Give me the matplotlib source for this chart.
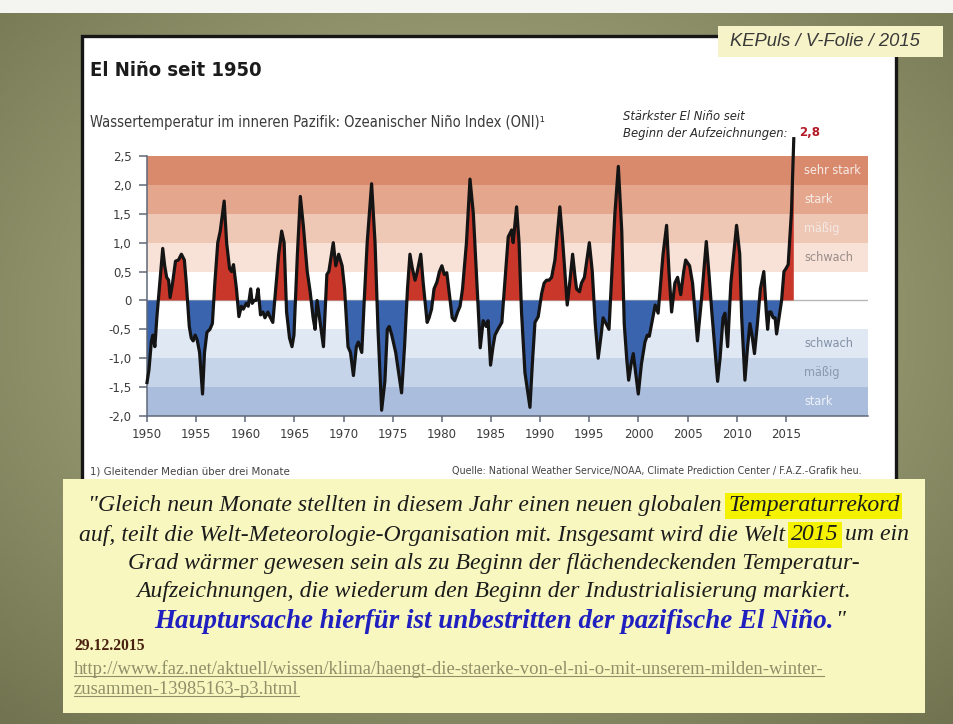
import os
import numpy as np
import matplotlib
matplotlib.use('Agg')
import matplotlib.pyplot as plt
from matplotlib import font_manager as fm
from matplotlib.patches import Rectangle
from matplotlib.lines import Line2D

W, H = 954, 724

# ONI values (year, index)
years = [1950.0, 1950.2, 1950.45, 1950.6, 1950.8, 1951.0, 1951.3, 1951.6, 1951.8, 1952.0,
         1952.2, 1952.35, 1952.6, 1952.9, 1953.2, 1953.5, 1953.8, 1954.0, 1954.3, 1954.5,
         1954.7, 1954.9, 1955.1, 1955.35, 1955.65, 1955.85, 1956.1, 1956.4, 1956.65, 1956.9,
         1957.2, 1957.45, 1957.85, 1958.1, 1958.4, 1958.6, 1958.8, 1959.1, 1959.35, 1959.6,
         1959.8, 1960.1, 1960.3, 1960.55, 1960.7, 1960.9, 1961.1, 1961.3, 1961.55, 1961.8,
         1962.0, 1962.3, 1962.5, 1962.8, 1963.1, 1963.4, 1963.7, 1963.95, 1964.2, 1964.5,
         1964.75, 1964.95, 1965.3, 1965.6, 1965.9, 1966.3, 1966.6, 1966.9, 1967.1, 1967.3,
         1967.55, 1967.95, 1968.3, 1968.5, 1968.95, 1969.2, 1969.5, 1969.85, 1970.1, 1970.45,
         1970.7, 1971.0, 1971.3, 1971.5, 1971.85, 1972.1, 1972.4, 1972.85, 1973.2, 1973.5,
         1973.87, 1974.2, 1974.45, 1974.65, 1974.9, 1975.3, 1975.9, 1976.2, 1976.5, 1976.75,
         1977.0, 1977.27, 1977.5, 1977.85, 1978.1, 1978.5, 1978.7, 1978.95, 1979.2, 1979.5,
         1979.75, 1980.0, 1980.25, 1980.5, 1980.8, 1981.05, 1981.3, 1981.6, 1981.85, 1982.1,
         1982.5, 1982.86, 1983.2, 1983.5, 1983.9, 1984.2, 1984.5, 1984.7, 1984.95, 1985.2,
         1985.4, 1985.7, 1986.1, 1986.4, 1986.75, 1987.1, 1987.25, 1987.6, 1987.85, 1988.1,
         1988.3, 1988.45, 1988.96, 1989.2, 1989.47, 1989.8, 1990.15, 1990.4, 1990.65, 1990.9,
         1991.16, 1991.5, 1992.0, 1992.3, 1992.75, 1993.0, 1993.3, 1993.55, 1993.7, 1994.0,
         1994.2, 1994.5, 1994.75, 1995.0, 1995.3, 1995.6, 1995.9, 1996.2, 1996.4, 1996.7,
         1997.0, 1997.3, 1997.6, 1997.95, 1998.3, 1998.55, 1998.8, 1999.0, 1999.25, 1999.47,
         1999.98, 2000.3, 2000.66, 2000.9, 2001.1, 2001.45, 2001.7, 2002.0, 2002.5, 2002.86,
         2003.1, 2003.37, 2003.7, 2003.98, 2004.3, 2004.6, 2004.8, 2005.2, 2005.5, 2005.75,
         2006.0, 2006.4, 2006.9, 2007.2, 2007.45, 2007.8, 2008.05, 2008.3, 2008.6, 2008.8,
         2009.07, 2009.4, 2009.98, 2010.3, 2010.5, 2010.83, 2011.1, 2011.34, 2011.55, 2011.8,
         2012.1, 2012.4, 2012.75, 2013.0, 2013.14, 2013.3, 2013.48, 2013.7, 2013.9, 2014.05,
         2014.3, 2014.56, 2014.8, 2015.0, 2015.23, 2015.57, 2015.8]
oni = [-1.42, -1.2, -0.7, -0.6, -0.8, -0.3, 0.3, 0.9, 0.6, 0.4,
       0.35, 0.05, 0.3, 0.68, 0.7, 0.8, 0.7, 0.3, -0.45, -0.65,
       -0.7, -0.6, -0.68, -0.9, -1.62, -0.9, -0.55, -0.5, -0.4, 0.3,
       1.0, 1.2, 1.72, 1.0, 0.55, 0.5, 0.62, 0.2, -0.28, -0.1,
       -0.15, -0.05, -0.1, 0.2, -0.05, 0.0, 0.0, 0.2, -0.25, -0.2,
       -0.3, -0.2, -0.28, -0.38, 0.2, 0.8, 1.2, 1.0, -0.2, -0.65,
       -0.8, -0.6, 0.8, 1.8, 1.3, 0.5, 0.15, -0.3, -0.5, 0.0,
       -0.3, -0.8, 0.45, 0.5, 1.0, 0.6, 0.8, 0.6, 0.2, -0.8,
       -0.9, -1.3, -0.8, -0.72, -0.9, 0.0, 1.0, 2.02, 1.0, -0.5,
       -1.9, -1.4, -0.5, -0.45, -0.6, -0.9, -1.6, -0.8, 0.2, 0.8,
       0.55, 0.35, 0.5, 0.8, 0.3, -0.38, -0.3, -0.15, 0.2, 0.32,
       0.5, 0.6, 0.45, 0.48, 0.05, -0.3, -0.35, -0.2, -0.1, 0.2,
       1.0, 2.1, 1.5, 0.5, -0.82, -0.35, -0.45, -0.35, -1.12, -0.8,
       -0.6, -0.5, -0.38, 0.3, 1.1, 1.22, 1.0, 1.62, 1.0, -0.2,
       -0.8, -1.25, -1.85, -1.1, -0.38, -0.28, 0.12, 0.3, 0.35, 0.35,
       0.4, 0.7, 1.62, 1.0, -0.08, 0.3, 0.8, 0.4, 0.2, 0.15,
       0.3, 0.4, 0.7, 1.0, 0.5, -0.4, -1.0, -0.6, -0.3, -0.4,
       -0.5, 0.5, 1.5, 2.32, 1.2, -0.4, -1.0, -1.38, -1.1, -0.92,
       -1.62, -1.1, -0.72, -0.6, -0.62, -0.3, -0.08, -0.22, 0.8, 1.3,
       0.5, -0.2, 0.3, 0.4, 0.1, 0.5, 0.7, 0.6, 0.3, -0.2,
       -0.7, 0.0, 1.02, 0.4, -0.18, -0.9, -1.4, -1.0, -0.3, -0.22,
       -0.8, 0.3, 1.3, 0.8, -0.3, -1.38, -0.8, -0.4, -0.6, -0.92,
       -0.4, 0.2, 0.5, -0.2, -0.5, -0.2, -0.2, -0.3, -0.3, -0.58,
       -0.3, 0.0, 0.5, 0.55, 0.62, 1.56, 2.8]

band_lo = [2.0, 1.5, 1.0, 0.5, -1.0, -1.5, -2.0]
band_hi = [2.5, 2.0, 1.5, 1.0, -0.5, -1.0, -1.5]
band_names = ['sehr stark', 'stark', 'mäßig', 'schwach', 'schwach', 'mäßig', 'stark']
band_colors = ['#d98a6d', '#e4a68c', '#efc7b5', '#f8e2d8', '#e0e8f4', '#c6d4ea', '#aabddd']
band_text = ['#f6ebe6', '#f6ebe6', '#f4e9e4', '#9a8c87', '#8391a6', '#8a98ae', '#eef2f8']

yticks = [2.5, 2.0, 1.5, 1.0, 0.5, 0.0, -0.5, -1.0, -1.5, -2.0]
ytick_labels = ['2,5', '2,0', '1,5', '1,0', '0,5', '0', '-0,5', '-1,0', '-1,5', '-2,0']
xticks = [1950, 1955, 1960, 1965, 1970, 1975, 1980, 1985, 1990, 1995, 2000, 2005, 2010, 2015]

quote_lines = [
    ['"Gleich neun Monate stellten in diesem Jahr einen neuen globalen ', 'Temperaturrekord'],
    ['auf, teilt die Welt-Meteorologie-Organisation mit. Insgesamt wird die Welt ', '2015', ' um ein'],
    ['Grad wärmer gewesen sein als zu Beginn der flächendeckenden Temperatur-'],
    ['Aufzeichnungen, die wiederum den Beginn der Industrialisierung markiert.'],
]
quote_marks = [[False, True], [False, True, False], [False], [False]]
blue_line = 'Hauptursache hierfür ist unbestritten der pazifische El Niño.'
url1 = 'http://www.faz.net/aktuell/wissen/klima/haengt-die-staerke-von-el-ni-o-mit-unserem-milden-winter-'
url2 = 'zusammen-13985163-p3.html'

# look for a condensed sans, otherwise Roboto
cond = [f for f in fm.fontManager.ttflist
        if ('condensed' in (f.name + os.path.basename(f.fname)).lower()
            or 'narrow' in (f.name + os.path.basename(f.fname)).lower()
            or f.stretch in ('condensed', 'semi-condensed', 'extra-condensed', 501, 500) and False)]


def pick(weight_bold, italic):
    for f in cond:
        b = str(f.weight) in ('bold', '700')
        i = f.style in ('italic', 'oblique')
        if b == weight_bold and i == italic:
            return fm.FontProperties(fname=f.fname)
    return fm.FontProperties(family=['Roboto', 'DejaVu Sans'],
                             weight='bold' if weight_bold else 'normal',
                             style='italic' if italic else 'normal')


narrow = pick(False, False)
narrow_b = pick(True, False)
narrow_i = pick(False, True)
sans_i = fm.FontProperties(family='Liberation Sans', style='italic')
serif_i = fm.FontProperties(family='Liberation Serif', style='italic')
serif_bi = fm.FontProperties(family='Liberation Serif', style='italic', weight='bold')
serif_b = fm.FontProperties(family='Liberation Serif', weight='bold')
serif = fm.FontProperties(family='Liberation Serif')

fig = plt.figure(figsize=(W / 100, H / 100), dpi=100)
rend = fig.canvas.get_renderer()


def fx(px):
    return px / W


def fy(py):
    return 1 - py / H


def sized(fp, size):
    p = fp.copy()
    p.set_size(size)
    return p


def tw(s, fp):
    t = fig.text(0, 0, s, fontproperties=fp)
    w = t.get_window_extent(rend).width
    t.remove()
    return w


def fit(s, fp, width):
    return 10 * width / tw(s, sized(fp, 10))


def put(x, y, s, fp, size, color='#222222', ha='left', **kw):
    return fig.text(fx(x), fy(y), s, fontproperties=sized(fp, size), color=color,
                    ha=ha, va='center', **kw)


# background
bg = fig.add_axes([0, 0, 1, 1], zorder=-10)
gy, gx = np.mgrid[0:1:200j, 0:1:260j]
r = np.clip(np.sqrt(((gx - 0.5) / 0.75) ** 2 + ((gy - 0.45) / 0.75) ** 2), 0, 1)
light = np.array([0.73, 0.74, 0.57])
dark = np.array([0.44, 0.45, 0.31])
img = light[None, None, :] * (1 - r[..., None]) + dark[None, None, :] * r[..., None]
bg.imshow(img, extent=[0, 1, 0, 1], aspect='auto', origin='upper')
bg.add_patch(Rectangle((0, fy(13)), 1, 13 / H, color='#f4f4f0', lw=0))
bg.set_xlim(0, 1)
bg.set_ylim(0, 1)
bg.axis('off')

# white panel with black frame
fig.patches.append(Rectangle((fx(82), fy(484)), (896 - 82) / W, (484 - 36) / H, transform=fig.transFigure,
                             facecolor='white', edgecolor='#161616', lw=2.4, zorder=1))
fig.patches.append(Rectangle((fx(718), fy(57)), (943 - 718) / W, (57 - 26) / H, transform=fig.transFigure,
                             facecolor='#f6f3c8', edgecolor='none', zorder=2))
put(730, 42, 'KEPuls / V-Folie / 2015', sans_i, fit('KEPuls / V-Folie / 2015', sans_i, 190), '#3a3a3a',
    zorder=3)

# titles
put(90, 70, 'El Niño seit 1950', narrow_b, fit('El Niño seit 1950', narrow_b, 172), '#1b1b1b', zorder=3)
sub = 'Wassertemperatur im inneren Pazifik: Ozeanischer Niño Index (ONI)¹'
put(90, 122, sub, narrow, fit(sub, narrow, 452), '#3a3a3a', zorder=3)
s_ann = fit('Beginn der Aufzeichnungen:', narrow_i, 164)
put(623, 117, 'Stärkster El Niño seit', narrow_i, s_ann, '#2a2a2a', zorder=3)
put(623, 133, 'Beginn der Aufzeichnungen:', narrow_i, s_ann, '#2a2a2a', zorder=3)
put(799, 132, '2,8', narrow_b, fit('2,8', narrow_b, 21), '#b31b2a', zorder=3)

# chart
ax = fig.add_axes([fx(147), fy(416), (868 - 147) / W, (416 - 156) / H], zorder=2)
ax.set_facecolor('white')
for lo, hi, c in zip(band_lo, band_hi, band_colors):
    ax.axhspan(lo, hi, color=c, lw=0, zorder=0)
ax.axhline(0, color='#b8b8b8', lw=1.0, zorder=0.5)
t = np.array(years)
v = np.array(oni)
ax.fill_between(t, v, 0, where=v >= 0, interpolate=True, color='#c8372a', lw=0, zorder=1)
ax.fill_between(t, v, 0, where=v <= 0, interpolate=True, color='#3b64ae', lw=0, zorder=1)
ax.plot(t, v, color='#141414', lw=2.3, solid_joinstyle='round', clip_on=False, zorder=3)
ax.set_xlim(1950, 2023.35)
ax.set_ylim(-2.0, 2.5)

tick_size = fit('1950', narrow, 30)
ax.set_yticks(yticks)
ax.set_yticklabels(ytick_labels, fontproperties=sized(narrow, tick_size), color='#3c3c3c')
ax.set_xticks(xticks)
ax.set_xticklabels([str(x) for x in xticks], fontproperties=sized(narrow, tick_size), color='#3c3c3c')
ax.tick_params(axis='y', length=6, width=1.1, color='#5f6878', pad=5)
ax.tick_params(axis='x', length=4, width=1.1, color='#5f6878', pad=5)
for s in ['top', 'right']:
    ax.spines[s].set_visible(False)
for s in ['left', 'bottom']:
    ax.spines[s].set_color('#5f6878')
    ax.spines[s].set_linewidth(1.1)

lab_size = fit('sehr stark', narrow, 57)
for lo, hi, name, tc in zip(band_lo, band_hi, band_names, band_text):
    ax.text(2016.85, (lo + hi) / 2, name, fontproperties=sized(narrow, lab_size), color=tc,
            va='center', ha='left', zorder=4)

# footnotes
foot = '1) Gleitender Median über drei Monate'
put(90, 471, foot, narrow, fit(foot, narrow, 200), '#444444', zorder=3)
src = 'Quelle: National Weather Service/NOAA, Climate Prediction Center / F.A.Z.-Grafik heu.'
put(862, 471, src, narrow, fit(src, narrow, 413), '#444444', ha='right', zorder=3)

# quote box
fig.patches.append(Rectangle((fx(63), fy(713)), (925 - 63) / W, (713 - 479) / H, transform=fig.transFigure,
                             facecolor='#f8f7bf', edgecolor='none', zorder=5))

qsize = fit(''.join(quote_lines[1]), serif_i, 832)
qfp = sized(serif_i, qsize)
line_y = [506, 535, 563, 592]
for parts, marks, y in zip(quote_lines, quote_marks, line_y):
    full = ''.join(parts)
    left = 494 - tw(full, qfp) / 2
    prefix = ''
    for part, hl in zip(parts, marks):
        prefix += part
        core = part.strip()
        x0 = left + tw(prefix.rstrip(), qfp) - tw(core, qfp)
        kw = {}
        if hl:
            kw['bbox'] = dict(boxstyle='square,pad=0.12', fc='#f4f200', ec='none')
        fig.text(fx(x0), fy(y), core, fontproperties=qfp, color='#1c1c1c', va='center', ha='left',
                 zorder=6, **kw)

bfp = sized(serif_bi, fit(blue_line, serif_bi, 680))
bt = fig.text(fx(154), fy(621), blue_line, fontproperties=bfp, color='#2020c0', va='center', ha='left',
              zorder=6)
bx = bt.get_window_extent(rend).x1
fig.text((bx + 2) / W, fy(621), '"', fontproperties=qfp, color='#1c1c1c', va='center', ha='left', zorder=6)

put(74, 646, '29.12.2015', serif_b, fit('29.12.2015', serif_b, 71), '#4a2010', zorder=6)
usize = fit(url1, serif, 747)
for y, u in zip([669, 689], [url1, url2]):
    ut = put(74, y, u, serif, usize, '#8f8f6a', zorder=6)
    e = ut.get_window_extent(rend)
    fig.add_artist(Line2D([e.x0 / W, e.x1 / W], [(e.y0 + 2) / H, (e.y0 + 2) / H], color='#8f8f6a', lw=0.8,
                          transform=fig.transFigure, zorder=6))

fig.savefig('out.png', dpi=100)
